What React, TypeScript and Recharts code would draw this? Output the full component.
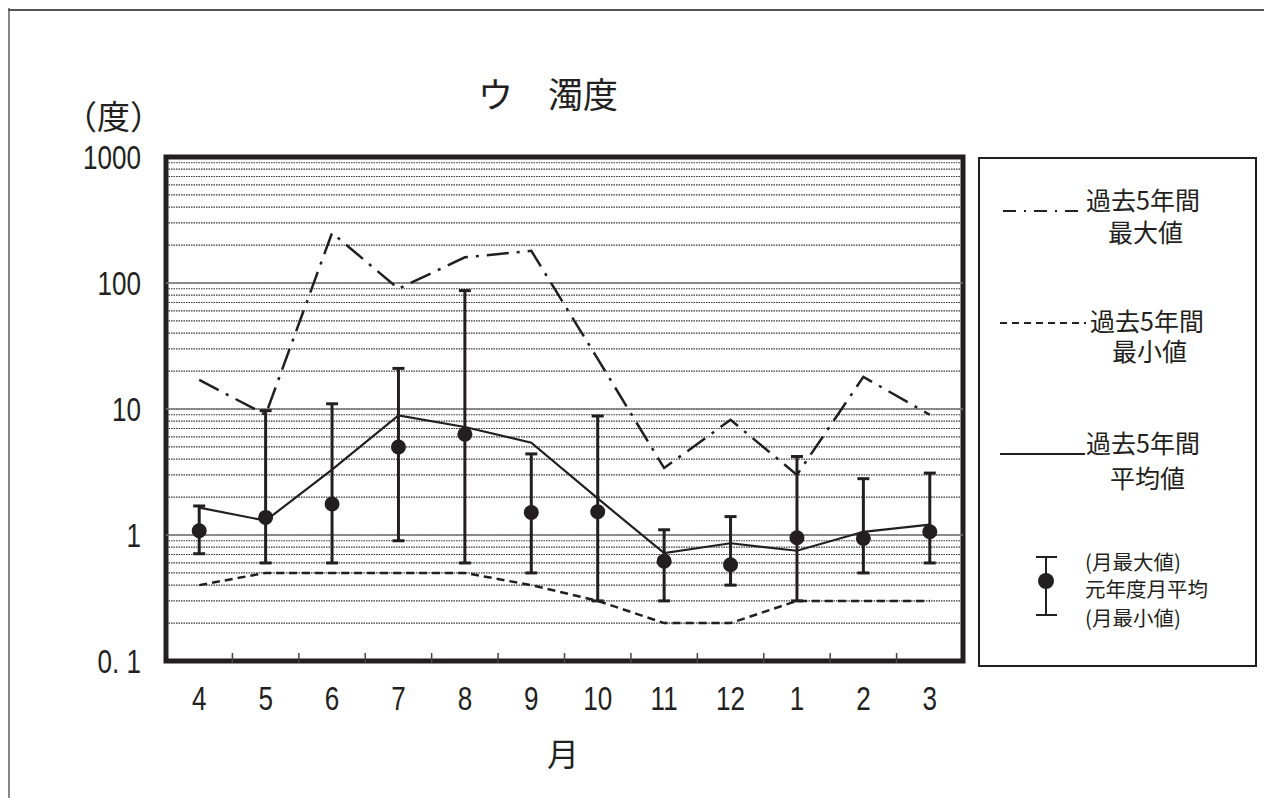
import {
  ComposedChart,
  Line,
  XAxis,
  YAxis,
  CartesianGrid,
  ReferenceLine,
  ReferenceArea,
  ErrorBar,
} from 'recharts'

// months of the fiscal year (Apr -> Mar)
const months = ['4', '5', '6', '7', '8', '9', '10', '11', '12', '1', '2', '3']

// past 5 years
const pastMax = [17, 9, 250, 90, 160, 180, 25, 3.4, 8.2, 3, 18, 9]
const pastMin = [0.4, 0.5, 0.5, 0.5, 0.5, 0.4, 0.3, 0.2, 0.2, 0.3, 0.3, 0.3]
const pastAvg = [1.65, 1.3, 3.3, 8.9, 7.2, 5.4, 1.95, 0.72, 0.86, 0.75, 1.06, 1.21]

// this year: monthly mean / max / min
const monthMean = [1.08, 1.38, 1.76, 5, 6.3, 1.51, 1.53, 0.62, 0.58, 0.95, 0.94, 1.06]
const monthMax = [1.7, 9.7, 11, 21, 87, 4.4, 8.8, 1.1, 1.4, 4.2, 2.8, 3.1]
const monthMin = [0.71, 0.6, 0.6, 0.9, 0.6, 0.5, 0.3, 0.3, 0.4, 0.3, 0.5, 0.6]

const yTicks = [
  0.1, 0.2, 0.3, 0.4, 0.5, 0.6, 0.7, 0.8, 0.9,
  1, 2, 3, 4, 5, 6, 7, 8, 9,
  10, 20, 30, 40, 50, 60, 70, 80, 90,
  100, 200, 300, 400, 500, 600, 700, 800, 900,
  1000,
]
const yLabels: Record<string, string> = { '0.1': '0. 1', '1': '1', '10': '10', '100': '100', '1000': '1000' }

// centers at i + .5 carry the month labels, integers are the boundary marks
const xTicks = months.flatMap((_, i) => (i === 0 ? [0.5] : [i, i + 0.5]))

const INK = '#231f20'
const NUM_FONT = "'Liberation Sans', Arial, sans-serif"
const JP_FONT = "'Noto Sans CJK JP', 'Noto Sans', sans-serif"

const data = months.map((m, i) => ({
  x: i + 0.5,
  month: m,
  max: pastMax[i],
  min: pastMin[i],
  avg: pastAvg[i],
  mean: monthMean[i],
  err: [monthMean[i] - monthMin[i], monthMax[i] - monthMean[i]],
}))

// tall, narrow digits like the original print
function NarrowText({ x, y, anchor, children }: { x: number; y: number; anchor: string; children: string }) {
  return (
    <text
      transform={`translate(${x} ${y}) scale(0.79 1)`}
      dy="0.355em"
      textAnchor={anchor}
      fontFamily={NUM_FONT}
      fontSize={33}
      fill={INK}
    >
      {children}
    </text>
  )
}

function MonthTick(props: any) {
  const { x, y, payload } = props
  const v = payload.value as number
  if (Number.isInteger(v)) {
    return <line x1={x} x2={x} y1={y} y2={y - 10} stroke="#444" strokeWidth={1.5} />
  }
  return <NarrowText x={x} y={y + 35} anchor="middle">{months[Math.floor(v)]}</NarrowText>
}

function ValueTick(props: any) {
  const { x, y, payload } = props
  const label = yLabels[String(payload.value)]
  if (!label) return null
  return <NarrowText x={x} y={y} anchor="end">{label}</NarrowText>
}

function LegendBox() {
  return (
    <g transform="translate(971,150)" fontFamily={JP_FONT} fill={INK}>
      <rect x={0} y={0} width={277} height={508} fill="#fff" stroke={INK} strokeWidth={2} />
      <line x1={24} x2={100} y1={53} y2={53} stroke={INK} strokeWidth={2} strokeDasharray="13 8 2 8" />
      <text x={107} y={52} fontSize={25}>過去5年間</text>
      <text x={129} y={84} fontSize={25}>最大値</text>

      <line x1={21} x2={107} y1={165} y2={165} stroke={INK} strokeWidth={2} strokeDasharray="7 5" />
      <text x={111} y={173} fontSize={25}>過去5年間</text>
      <text x={133} y={203} fontSize={25}>最小値</text>

      <line x1={21} x2={106} y1={296} y2={296} stroke={INK} strokeWidth={2} />
      <text x={107} y={295} fontSize={25}>過去5年間</text>
      <text x={131} y={330} fontSize={25}>平均値</text>

      <line x1={67} x2={67} y1={399} y2={457} stroke={INK} strokeWidth={2} />
      <line x1={57} x2={78} y1={399} y2={399} stroke={INK} strokeWidth={2} />
      <line x1={57} x2={78} y1={457} y2={457} stroke={INK} strokeWidth={2} />
      <circle cx={67} cy={423} r={8} fill={INK} />
      <text x={106} y={412} fontSize={20.5}>(月最大値)</text>
      <text x={106} y={439} fontSize={20.5}>元年度月平均</text>
      <text x={106} y={468} fontSize={20.5}>(月最小値)</text>
    </g>
  )
}

export default function App() {
  return (
    <div style={{ position: 'relative', width: 1264, height: 790, background: '#fff' }}>
      <style>{'html, body { overflow: hidden; }'}</style>
      <div style={{ position: 'absolute', left: 0, top: 0, width: 2, height: 790, background: '#888' }} />
      <div style={{ position: 'absolute', left: 0, top: 1, width: 1264, height: 1.5, background: '#555' }} />

      <div style={{ position: 'absolute', left: 0, top: 0 }}>
        <ComposedChart width={1264} height={790} data={data} margin={{ top: 149, right: 309, bottom: 77, left: 78 }}>
          <CartesianGrid vertical={false} stroke="#333" strokeWidth={1.2} strokeDasharray="1.5 1" />
          <XAxis
            dataKey="x"
            type="number"
            domain={[0, 12]}
            allowDataOverflow
            ticks={xTicks}
            interval={0}
            tickLine={false}
            axisLine={false}
            tickSize={0}
            tick={MonthTick}
            height={60}
          />
          <YAxis
            scale="log"
            domain={[0.1, 1000]}
            allowDataOverflow
            ticks={yTicks}
            interval={0}
            width={80}
            tickLine={false}
            axisLine={false}
            tickSize={0}
            tickMargin={25}
            tick={ValueTick}
          />
          {[1, 10, 100].map((v) => (
            <ReferenceLine key={v} y={v} stroke="#777" strokeWidth={1.5} />
          ))}
          <Line
            type="linear"
            dataKey="max"
            stroke={INK}
            strokeWidth={2.5}
            strokeDasharray="22 8 3 8"
            dot={false}
            isAnimationActive={false}
          />
          <Line
            type="linear"
            dataKey="min"
            stroke={INK}
            strokeWidth={2.5}
            strokeDasharray="8 5"
            dot={false}
            isAnimationActive={false}
          />
          <Line type="linear" dataKey="avg" stroke={INK} strokeWidth={2.2} dot={false} isAnimationActive={false} />
          <Line
            type="linear"
            dataKey="mean"
            stroke="none"
            dot={{ r: 7.5, fill: INK, stroke: 'none' }}
            isAnimationActive={false}
          >
            <ErrorBar dataKey="err" width={6} stroke={INK} strokeWidth={3} isAnimationActive={false} />
          </Line>
          <ReferenceArea
            x1={0}
            x2={12}
            y1={0.1}
            y2={1000}
            fill="none"
            stroke={INK}
            strokeWidth={5}
            ifOverflow="visible"
          />
        </ComposedChart>
      </div>

      <svg
        width={1264}
        height={790}
        style={{ position: 'absolute', left: 0, top: 0, pointerEvents: 'none' }}
      >
        <text x={470} y={100} fontFamily={JP_FONT} fontSize={35} fill={INK}>ウ　濁度</text>
        <text x={56} y={121} fontFamily={JP_FONT} fontSize={33} fill={INK}>（度）</text>
        <text x={555} y={758} textAnchor="middle" fontFamily={JP_FONT} fontSize={32} fill={INK}>月</text>
        <LegendBox />
      </svg>
    </div>
  )
}
